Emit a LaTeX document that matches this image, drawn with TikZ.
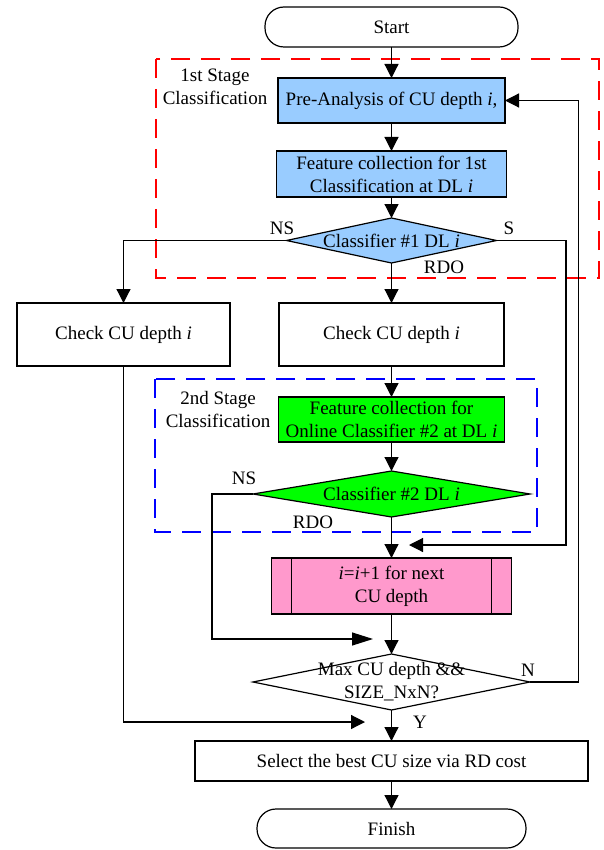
\documentclass[tikz,border=0pt]{standalone}
\usepackage{fontspec}
\setmainfont{Liberation Serif}
\usetikzlibrary{arrows.meta,positioning,shapes.geometric}
\newcommand{\flowfont}{\fontsize{19}{23}\selectfont}
\definecolor{stageblue}{HTML}{99CCFF}
\definecolor{stagegreen}{HTML}{00FF00}
\definecolor{subpink}{HTML}{FF99CC}
\tikzset{
    %Define standard arrow tip
    >={Triangle[length=14pt,width=14pt]},
    %Define style for boxes
    proc/.style={
           rectangle,
           draw=black, line width=1.2pt,
           inner sep=2pt, outer sep=0pt,
           font=\flowfont,
           align=center},
    term/.style={
           proc,
           rounded corners=19pt},
    decision/.style={
           diamond, aspect=5,
           draw=black, line width=1.2pt,
           inner xsep=-15pt, inner ysep=-5pt, outer sep=0pt,
           font=\flowfont,
           align=center},
    lbl/.style={
           font=\flowfont,
           align=center},
    % Define arrow style
    pil/.style={
           ->,
           line width=1.2pt},
    % Define style for the stage frames
    stageframe/.style={
           line width=2.8pt,
           dash pattern=on 19pt off 11pt}
}

\begin{document}
\begin{tikzpicture}[x=1pt,y=-1pt]
\useasboundingbox (0,0) rectangle (603,850);

% stage frames
\draw[stageframe, red] (156,59) rectangle (599,278);
\draw[stageframe, blue] (155,379) rectangle (537,532);
\node[lbl] (stage1) at (215,87) {1st Stage\\Classification};
\node[lbl] (stage2) at (218,409) {2nd Stage\\Classification};

\node[term, minimum width=253pt, minimum height=40pt] (start) at (391.5,27) {Start};
\node[proc, fill=stageblue, minimum width=227pt, minimum height=45pt, below=31pt of start] (pre) {Pre-Analysis of CU depth \textit{i},};
\node[proc, fill=stageblue, minimum width=230pt, minimum height=46pt, below=28pt of pre] (feat1) {Feature collection for 1st\\Classification at DL \textit{i}};
\node[decision, fill=stageblue, minimum width=210pt, minimum height=45pt, below=21pt of feat1] (dia1) {Classifier \#1 DL \textit{i}};
\node[proc, minimum width=225pt, minimum height=63pt, below=40pt of dia1] (chk2) {Check CU depth \textit{i}};
\node[proc, minimum width=213pt, minimum height=63pt, left=49pt of chk2] (chk1) {Check CU depth \textit{i}};
\node[proc, fill=stagegreen, minimum width=226pt, minimum height=45pt, below=31pt of chk2] (feat2) {Feature collection for\\Online Classifier \#2 at DL \textit{i}};
\node[decision, fill=stagegreen, minimum width=277pt, minimum height=46pt, below=29pt of feat2] (dia2) {Classifier \#2 DL \textit{i}};
\node[proc, fill=subpink, minimum width=240pt, minimum height=56pt, below=41pt of dia2] (next) {\textit{i}=\textit{i}+1 for next\\CU depth};
\draw[line width=1.2pt] ([xshift=20pt]next.north west) -- ([xshift=20pt]next.south west)
      ([xshift=-20pt]next.north east) -- ([xshift=-20pt]next.south east);
\node[decision, minimum width=277pt, minimum height=56pt, below=40pt of next] (dia3) {Max CU depth \&\&\\SIZE\_NxN?};
\node[proc, minimum width=393pt, minimum height=40pt, below=31pt of dia3] (best) {Select the best CU size via RD cost};
\node[term, minimum width=269pt, minimum height=39pt, below=28pt of best] (finish) {Finish};

% branch labels
\node[lbl] (ns1) at (282,228) {NS};
\node[lbl] (s1) at (509,228) {S};
\node[lbl] (rdo1) at (444,267) {RDO};
\node[lbl] (ns2) at (244,478) {NS};
\node[lbl] (rdo2) at (313,522) {RDO};
\node[lbl] (n3) at (528,670) {N};
\node[lbl] (y3) at (420,722) {Y};

\coordinate (sright) at (566,545);
\coordinate (sjoin) at (409,545);
\coordinate (nscorner) at (212,639);
\coordinate (nsjoin) at (373,639);
\coordinate (ljoin) at (365,722);

\path[pil]
	(start) edge (pre)
	(pre) edge (feat1)
	(feat1) edge (dia1)
	(dia1) edge (chk2)
	(chk2) edge (feat2)
	(feat2) edge (dia2)
	(dia2) edge (next)
	(next) edge (dia3)
	(dia3) edge (best)
	(best) edge (finish);
\draw[pil] (dia1.west) -| (chk1.north);
\draw[pil] (dia1.east) -| (sright) -- (sjoin);
\draw[pil, -{Triangle[length=21pt,width=13pt]}] (dia2.west) -| (nscorner) -- (nsjoin);
\draw[pil] (chk1.south) |- (ljoin);
\draw[pil] (dia3.east) -- ++(48.5,0) |- (pre.east);
\end{tikzpicture}
\end{document}
